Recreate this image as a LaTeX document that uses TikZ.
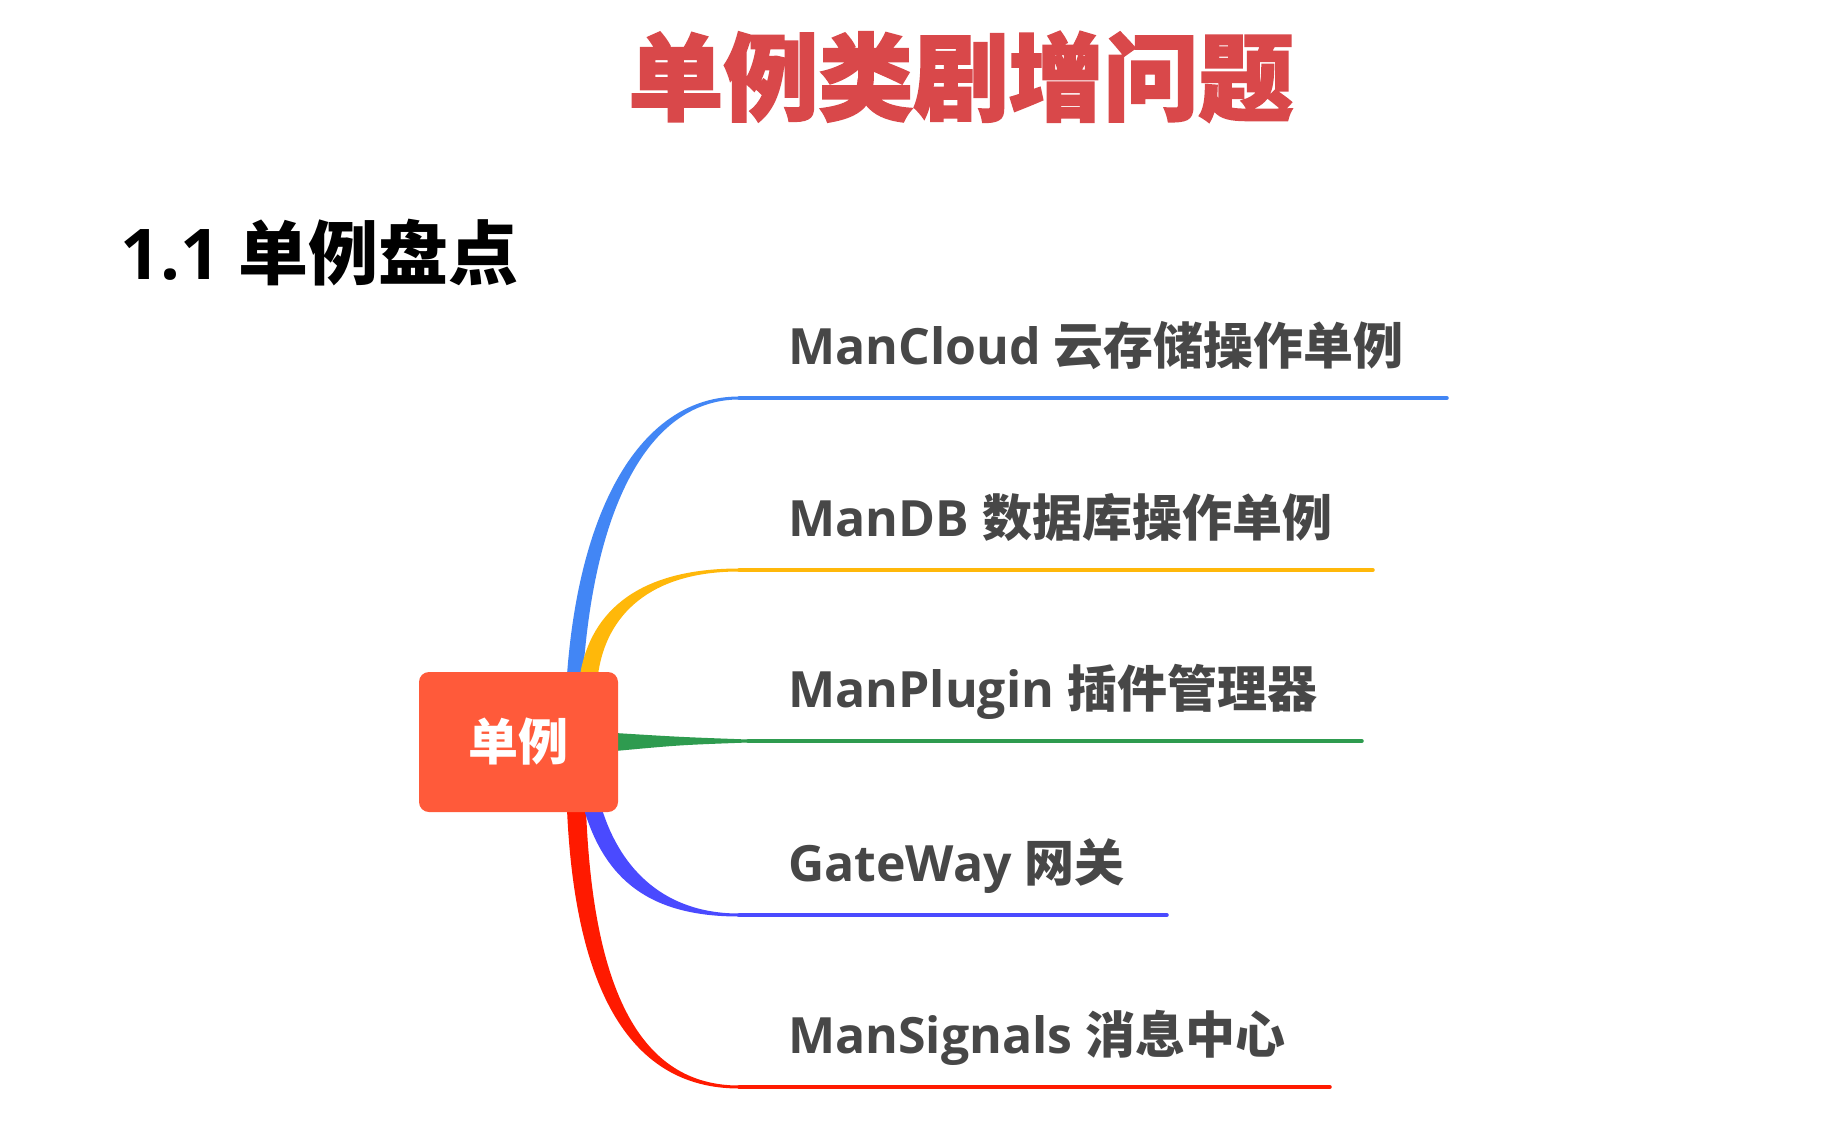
\documentclass[tikz,border=0pt]{standalone}
\usepackage{fontspec}
\setmainfont{Open Sans}
\newfontfamily\cjk{Noto Sans CJK SC}
\newfontfamily\cjkheavy[FakeBold=2]{Noto Sans CJK SC}
\usetikzlibrary{backgrounds}

\definecolor{titlered}{HTML}{D9484A}
\definecolor{rootred}{HTML}{FF5A3A}
\definecolor{txtgray}{HTML}{474747}
\definecolor{cblue}{HTML}{4286F5}
\definecolor{cyellow}{HTML}{FFB80A}
\definecolor{cgreen}{HTML}{2E9B4F}
\definecolor{cviolet}{HTML}{4A4AFF}
\definecolor{cred}{HTML}{FF1A00}

\begin{document}
\begin{tikzpicture}[x=1pt, y=-1pt,
    title/.style={anchor=base, inner sep=0, text=titlered,
        font=\cjkheavy\bfseries\fontsize{95}{95}\selectfont},
    section/.style={anchor=base west, inner sep=0, text=black,
        font=\bfseries\fontsize{70}{70}\selectfont},
    root/.style={fill=rootred, rounded corners=10, minimum width=199,
        minimum height=140, text=white, inner sep=0,
        font=\cjk\bfseries\fontsize{50}{50}\selectfont},
    leaf/.style={anchor=base west, inner sep=0, text=txtgray,
        font=\bfseries\fontsize{50}{50}\selectfont},
    twig/.style={line width=3.5, line cap=round}]
                \useasboundingbox (0,0) rectangle (1824,1130);

                \node[title] (title) at (961,113) {单例类剧增问题};
                \node[section] (sec) at (120,279) {1.1 {\cjk 单例盘点}};

                \node[root] (root) at (518.5,742) {单例};

                % branch ends
                \coordinate (b1) at (739,398);  \coordinate (e1) at (1447,398);
                \coordinate (b2) at (739,570);  \coordinate (e2) at (1373,570);
                \coordinate (b3) at (748,741);  \coordinate (e3) at (1362,741);
                \coordinate (b4) at (739,915);  \coordinate (e4) at (1167,915);
                \coordinate (b5) at (739,1087); \coordinate (e5) at (1330,1087);

                \begin{pgfonlayer}{background}
                \fill[white] (0,0) rectangle (1824,1130);
                \fill[cblue] ([xshift=48.5,yshift=-3]root.north) .. controls (580,500) and (645,396.5) .. ([yshift=1.5]b1)
                    -- ([yshift=-1.5]b1) .. controls (652,399.5) and (595,500) .. ([xshift=64.5,yshift=-3]root.north) -- cycle;
                \fill[cyellow] ([xshift=61.5,yshift=-3]root.north) .. controls (591,610) and (640,568.5) .. ([yshift=1.5]b2)
                    -- ([yshift=-1.5]b2) .. controls (650,571.5) and (606,615) .. ([xshift=79.5,yshift=-3]root.north) -- cycle;
                \fill[cgreen] ([xshift=-3,yshift=9]root.east) .. controls (680,737) .. ([yshift=1.5]b3)
                    -- ([yshift=-1.5]b3) .. controls (680,745) .. ([xshift=-3,yshift=-9]root.east) -- cycle;
                \fill[cred] ([xshift=48.5,yshift=3]root.south) .. controls (575,990) and (630,1088.5) .. ([yshift=-1.5]b5)
                    -- ([yshift=1.5]b5) .. controls (640,1085.5) and (593,990) .. ([xshift=67.5,yshift=3]root.south) -- cycle;
                \fill[cviolet] ([xshift=65.5,yshift=3]root.south) .. controls (605,880) and (650,916.5) .. ([yshift=-1.5]b4)
                    -- ([yshift=1.5]b4) .. controls (665,913.5) and (621,870) .. ([xshift=83.5,yshift=3]root.south) -- cycle;
                \end{pgfonlayer}

                \draw[twig, cblue] (b1) -- (e1);
                \draw[twig, cyellow] (b2) -- (e2);
                \draw[twig, cgreen] (b3) -- (e3);
                \draw[twig, cviolet] (b4) -- (e4);
                \draw[twig, cred] (b5) -- (e5);

                \node[leaf] (l1) at (788,364) {ManCloud {\cjk 云存储操作单例}};
                \node[leaf] (l2) at (788,536) {ManDB {\cjk 数据库操作单例}};
                \node[leaf] (l3) at (788,707) {ManPlugin {\cjk 插件管理器}};
                \node[leaf] (l4) at (788,881) {GateWay {\cjk 网关}};
                \node[leaf] (l5) at (788,1053) {ManSignals {\cjk 消息中心}};
            \end{tikzpicture}
\end{document}
